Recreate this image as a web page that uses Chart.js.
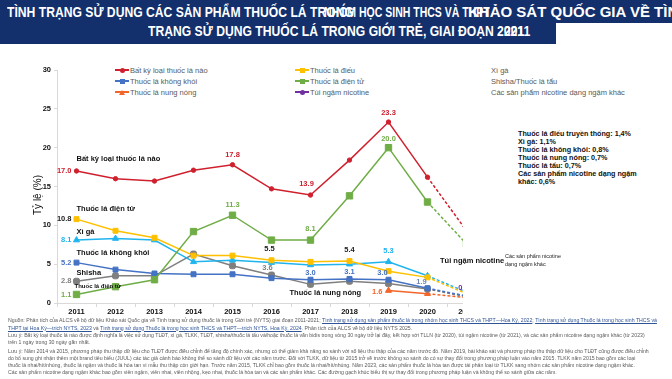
<!DOCTYPE html>
<html>
<head>
<meta charset="utf-8">
<script src="https://cdn.jsdelivr.net/npm/chart.js@4.4.1/dist/chart.umd.min.js"></script>
<style>
  body { margin: 0; width: 672px; height: 379px; position: relative; overflow: hidden; background: #fff; font-family: "Liberation Sans", Arial, sans-serif; }
  .hd { position: absolute; background: #13306c; }
  .tt { position: absolute; color: #fff; font-family: "Liberation Sans", Arial, sans-serif; font-weight: bold; font-size: 15px; line-height: 18px; white-space: nowrap; transform: scaleX(0.81); transform-origin: left top; }
  #plot { position: absolute; left: 0; top: 60px; width: 463px; height: 262px; overflow: hidden; }
  #legend div { position: absolute; font-size: 7.5px; color: #595959; white-space: nowrap; line-height: 9px; }
  .note { position: absolute; font-size: 7.2px; font-weight: bold; color: #111; white-space: nowrap; line-height: 8px; }
  .foot { position: absolute; left: 8px; font-size: 5.2px; color: #595959; white-space: nowrap; line-height: 7px; }
  .foot a { color: #2f5597; text-decoration: underline; }
</style>
</head>
<body>

<div class="hd" style="left:0;top:0;width:672px;height:23px"></div>
<div class="hd" style="left:0;top:23px;width:556px;height:21px"></div>
<div class="tt" style="left:7px;top:3px">TÌNH TRẠNG SỬ DỤNG CÁC SẢN PHẨM THUỐC LÁ TRONG</div>
<div class="tt" style="left:324px;top:3px;transform:scaleX(0.7)">NHÓM HỌC SINH THCS VÀ THPT</div>
<div class="tt" style="left:468px;top:3px;transform:scaleX(1)">KHẢO SÁT QUỐC GIA VỀ TÌNH</div>
<div class="tt" style="left:148px;top:22px">TRẠNG SỬ DỤNG THUỐC LÁ TRONG GIỚI TRẺ, GIAI ĐOẠN</div>
<div class="tt" style="left:497px;top:22px">2021</div>
<div class="tt" style="left:504px;top:22px">2011</div>

<div id="legend"></div>

<div id="plot"><canvas id="myChart" width="500" height="262"></canvas></div>

<div class="note" style="left:440px;top:257px;font-size:7.5px">Túi ngậm nicotine</div>
<div class="note" style="left:505px;top:252px;font-size:5.5px;line-height:8px;font-weight:normal;color:#222">Các sản phẩm nicotine<br>dạng ngậm khác</div>

<div class="note" style="left:518px;top:130px">Thuốc lá điếu truyền thống: 1,4%<br>Xì gà: 1,1%<br>Thuốc lá không khói: 0,8%<br>Thuốc lá nung nóng: 0,7%<br>Thuốc lá tẩu: 0,7%<br>Các sản phẩm nicotine dạng ngậm<br>khác: 0,6%</div>

<div class="foot" style="top:317px">Nguồn: Phân tích của ALCS về bộ dữ liệu Khảo sát Quốc gia về Tình trạng sử dụng thuốc lá trong Giới trẻ (NYTS) giai đoạn 2011-2021; <a>Tình trạng sử dụng sản phẩm thuốc lá trong nhóm học sinh THCS và THPT—Hoa Kỳ, 2022</a>; <a>Tình trạng sử dụng Thuốc lá trong học sinh THCS và</a></div>
<div class="foot" style="top:324.5px"><a>THPT tại Hoa Kỳ—trích NYTS, 2023</a> và <a>Tình trạng sử dụng Thuốc lá trong học sinh THCS và THPT—trích NYTS, Hoa Kỳ, 2024</a>. Phân tích của ALCS về bộ dữ liệu NYTS 2025.</div>
<div class="foot" style="top:332px">Lưu ý: Bất kỳ loại thuốc lá nào được định nghĩa là việc sử dụng TLĐT, xì gà, TLKK, TLĐT, shisha/thuốc lá tẩu và/hoặc thuốc lá vấn bidis trong vòng 30 ngày trở lại đây, kết hợp với TLLN (từ 2020), túi ngậm nicotine (từ 2021), và các sản phẩm nicotine dạng ngậm khác (từ 2023)</div>
<div class="foot" style="top:339px">trên 1 ngày trong 30 ngày gần nhất.</div>
<div class="foot" style="top:348px">Lưu ý: Năm 2014 và 2015, phương pháp thu thập dữ liệu cho TLĐT được điều chỉnh để tăng độ chính xác, nhưng có thể giảm khả năng so sánh với số liệu thu thập của các năm trước đó. Năm 2019, bài khảo sát và phương pháp thu thập dữ liệu cho TLĐT cũng được điều chỉnh</div>
<div class="foot" style="top:355px">do bổ sung ghi nhận thêm một brand tiêu biểu (JUUL) các tác giả cảnh báo không thể so sánh dữ liệu với các năm trước. Đối với TLKK, dữ liệu từ 2015 trở về trước không so sánh do có sự thay đổi trong phương pháp luận vào năm 2015. TLKK năm 2015 bao gồm các loại</div>
<div class="foot" style="top:362px">thuốc lá nhai/hít/nhúng, thuốc lá ngậm và thuốc lá hòa tan vì mẫu thu thập còn giới hạn. Trước năm 2015, TLKK chỉ bao gồm thuốc lá nhai/hít/nhúng. Năm 2023, các sản phẩm thuốc lá hòa tan được tái phân loại từ TLKK sang nhóm các sản phẩm nicotine dạng ngậm khác.</div>
<div class="foot" style="top:369px">Các sản phẩm nicotine dạng ngậm khác bao gồm viên ngậm, viên nhai, viên nhộng, kẹo nhai, thuốc lá hòa tan và các sản phẩm khác. Các đường gạch khúc biểu thị sự thay đổi trong phương pháp luận và không thể so sánh giữa các năm.</div>

<script>
// years on the x axis
const years = ['2011', '2012', '2013', '2014', '2015', '2016', '2017', '2018', '2019', '2020', '2021'];

// % of middle + high school students
const anyTobacco = [17.0, 16.0, 15.7, 17.1, 17.8, 14.7, 13.9, 18.4, 23.3, 16.2, 9.3];
const cigarettes = [10.8, 9.3, 8.4, 6.1, 6.1, 5.5, 5.3, 5.4, 4.1, 3.3, 1.2];
const cigars = [8.1, 8.3, 8.1, 5.3, 5.5, 5.2, 4.9, 5.0, 5.3, 3.5, 1.4];
const smokeless = [5.2, 4.3, 3.8, 3.7, 3.7, 3.2, 3.0, 3.1, 3.0, 1.9, 0.9];
const ecig = [1.1, 2.1, 3.0, 9.2, 11.3, 8.1, 8.1, 13.8, 20.0, 13.0, 7.6];
const hookah = [2.8, 3.5, 3.5, 6.3, 4.8, 3.6, 2.4, 2.8, 2.5, 1.8, 0.8];
const heated = [null, null, null, null, null, null, null, null, 1.6, 1.2, 0.7];
const pouches = [null, null, null, null, null, null, null, null, null, null, 0.8];

const lastIdx = years.length - 1;

function line(label, data, color, style, radius) {
  return {
    label: label,
    data: data,
    borderColor: color,
    backgroundColor: color,
    borderWidth: 1.5,
    pointStyle: style,
    pointRadius: radius,
    pointHoverRadius: radius,
    pointBorderWidth: 1,
    segment: {
      // 2020 -> 2021 is a method change, drawn dashed
      borderDash: c => c.p1DataIndex === lastIdx ? [3, 2] : undefined
    }
  };
}

const datasets = [
  line('Bất kỳ loại thuốc lá nào', anyTobacco, '#d0202e', 'circle', 2.2),
  line('Thuốc lá điện tử', ecig, '#70ad47', 'rect', 4.5),
  line('Thuốc lá điếu', cigarettes, '#ffc000', 'rect', 3.5),
  line('Xì gà', cigars, '#1fb4ee', 'triangle', 3.5),
  line('Thuốc lá không khói', smokeless, '#4472c4', 'rect', 3.5),
  line('Shisha/Thuốc lá tẩu', hookah, '#7f7f7f', 'rectRounded', 3.5),
  line('Thuốc lá nung nóng', heated, '#f4652a', 'triangle', 3.5),
  line('Túi ngậm nicotine', pouches, '#7030a0', 'circle', 3)
];

// legend laid out in three columns like the original
const legendCols = [
  [0, 4, 6],
  [2, 1, 7],
  [3, 5, null]
];
const legendX = [115, 295, 491];
const legendY = [70, 81, 92];
let legendHtml = '';
legendCols.forEach((col, c) => {
  col.forEach((di, r) => {
    let text = di === null ? 'Các sản phẩm nicotine dạng ngậm khác' : datasets[di].label;
    let top = legendY[r] - 4.5;
    if (c < 2) {
      let clr = datasets[di].borderColor;
      let st = datasets[di].pointStyle;
      let mk = st === 'triangle'
        ? 'width:0;height:0;border-left:3px solid transparent;border-right:3px solid transparent;border-bottom:5px solid ' + clr + ';left:4px;top:2px;'
        : 'width:5px;height:5px;background:' + clr + ';left:4.5px;top:2px;' + (st === 'circle' ? 'border-radius:50%;' : '');
      legendHtml += '<div style="left:' + legendX[c] + 'px;top:' + top + 'px;width:14px;height:9px">' +
        '<div style="position:absolute;left:0;top:3.5px;width:14px;height:2px;background:' + clr + '"></div>' +
        '<div style="position:absolute;' + mk + '"></div></div>';
      legendHtml += '<div style="left:' + (legendX[c] + 15) + 'px;top:' + top + 'px">' + text + '</div>';
    } else {
      legendHtml += '<div style="left:' + legendX[c] + 'px;top:' + top + 'px">' + text + '</div>';
    }
  });
});
document.getElementById('legend').innerHTML = legendHtml;

// value labels next to points: dataset index, point index, offsets, colour
const valueLabels = [
  { ds: 0, i: 0, dx: -5, dy: 0, align: 'right', color: '#d0202e' },
  { ds: 0, i: 4, dx: 0, dy: -10, color: '#d0202e' },
  { ds: 0, i: 6, dx: -4, dy: -11, color: '#d0202e' },
  { ds: 0, i: 8, dx: 0, dy: -9, color: '#d0202e' },
  { ds: 1, i: 0, dx: -5, dy: 0, align: 'right', color: '#70ad47' },
  { ds: 1, i: 4, dx: 0, dy: -10, color: '#70ad47' },
  { ds: 1, i: 6, dx: 0, dy: -11, color: '#70ad47' },
  { ds: 1, i: 8, dx: 0, dy: -9, color: '#70ad47' },
  { ds: 2, i: 0, dx: -5, dy: 0, align: 'right', color: '#222' },
  { ds: 2, i: 5, dx: -2, dy: -11, color: '#222' },
  { ds: 2, i: 7, dx: 0, dy: -11, color: '#222' },
  { ds: 3, i: 0, dx: -5, dy: 0, align: 'right', color: '#1fb4ee' },
  { ds: 3, i: 8, dx: 0, dy: -11, color: '#1fb4ee' },
  { ds: 4, i: 0, dx: -5, dy: 0, align: 'right', color: '#4472c4' },
  { ds: 4, i: 6, dx: 0, dy: -7, color: '#4472c4' },
  { ds: 4, i: 7, dx: 0, dy: -7, color: '#4472c4' },
  { ds: 4, i: 8, dx: -6, dy: -7, color: '#4472c4' },
  { ds: 4, i: 9, dx: -6, dy: -6, color: '#6f86b8' },
  { ds: 5, i: 0, dx: -5, dy: 0, align: 'right', color: '#7f7f7f' },
  { ds: 5, i: 5, dx: -4, dy: -7, color: '#7f7f7f' },
  { ds: 6, i: 8, dx: -6, dy: 1, align: 'right', color: '#f4652a' },
  { ds: 7, i: 10, dx: -3, dy: -9, color: '#7030a0' }
];

// series names written inside the plot, placed by category index and value
const nameLabels = [
  { text: 'Bất kỳ loại thuốc lá nào', i: 0, v: 18.6, size: 7.5 },
  { text: 'Thuốc lá điện tử', i: 0, v: 12.1, size: 7.5 },
  { text: 'Xì gà', i: 0, v: 9.2, size: 7.5 },
  { text: 'Thuốc lá không khói', i: 0, v: 6.4, size: 7.5 },
  { text: 'Shisha', i: 0, v: 3.9, size: 7.5 },
  { text: 'Thuốc lá điện tử', i: 0, v: 2.2, size: 6, dx: -2 },
  { text: 'Thuốc lá nung nóng', i: 5, v: 1.3, size: 7.5, dx: 18 }
];

const labelPlugin = {
  id: 'pointLabels',
  afterDatasetsDraw(chart) {
    const ctx = chart.ctx;
    const xs = chart.scales.x;
    const ys = chart.scales.y;
    ctx.save();
    ctx.textBaseline = 'middle';
    valueLabels.forEach(l => {
      const p = chart.getDatasetMeta(l.ds).data[l.i];
      const v = chart.data.datasets[l.ds].data[l.i];
      ctx.font = 'bold 7.5px "Liberation Sans", Arial, sans-serif';
      ctx.fillStyle = l.color;
      ctx.textAlign = l.align || 'center';
      ctx.fillText(v.toFixed(1), p.x + l.dx, p.y + l.dy);
    });
    nameLabels.forEach(l => {
      ctx.font = 'bold ' + l.size + 'px "Liberation Sans", Arial, sans-serif';
      ctx.fillStyle = '#111';
      ctx.textAlign = 'left';
      ctx.fillText(l.text, xs.getPixelForValue(l.i) + (l.dx || 0), ys.getPixelForValue(l.v));
    });
    // y axis title, sitting a bit below the middle like the original
    ctx.translate(38, 135);
    ctx.rotate(-Math.PI / 2);
    ctx.font = '10px "Liberation Sans", Arial, sans-serif';
    ctx.fillStyle = '#111';
    ctx.textAlign = 'center';
    ctx.fillText('Tỷ lệ (%)', 0, 0);
    ctx.restore();
  }
};

var ctx = document.getElementById('myChart').getContext('2d');

var myChart = new Chart(ctx, {
  type: 'line',
  data: {
    labels: years,
    datasets: datasets
  },
  options: {
    responsive: false,
    animation: false,
    layout: { padding: { top: 10, right: 14, bottom: 6, left: 0 } },
    plugins: {
      legend: { display: false },
      tooltip: { enabled: false }
    },
    scales: {
      x: {
        offset: true,
        grid: { display: true, offset: true, drawOnChartArea: false, tickLength: 4, color: '#d9d9d9' },
        border: { color: '#d9d9d9' },
        ticks: { color: '#111', font: { size: 7.5, weight: 'bold' }, padding: 0, maxRotation: 0, autoSkip: false }
      },
      y: {
        min: 0,
        max: 30,
        afterFit: s => { s.width = 57; },
        grid: { display: true, drawOnChartArea: false, tickLength: 3, color: '#d9d9d9' },
        border: { color: '#d9d9d9' },
        ticks: { stepSize: 5, color: '#111', font: { size: 7.5, weight: 'bold' }, padding: 3 }
      }
    }
  },
  plugins: [labelPlugin]
});
</script>
</body>
</html>
